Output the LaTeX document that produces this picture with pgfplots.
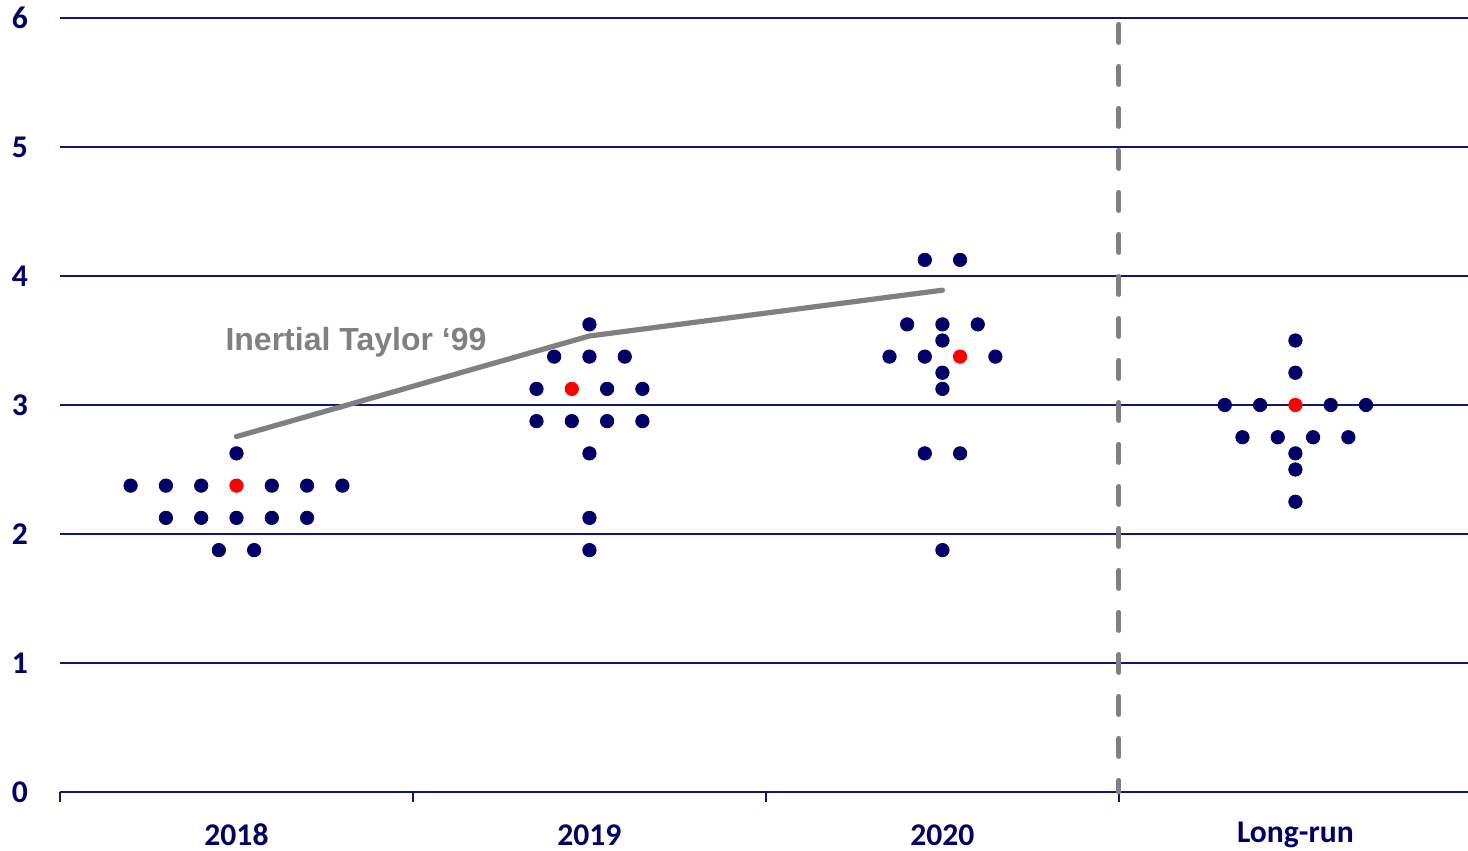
\documentclass[border=0pt]{standalone}
\usepackage{fontspec}
\setmainfont{Carlito}
\newfontfamily\arialfont{Liberation Sans}
\usepackage{pgfplots}
\pgfplotsset{compat=1.18}
\definecolor{navy}{RGB}{0,0,102}
\definecolor{gridnavy}{RGB}{20,20,115}
\definecolor{lgray}{RGB}{128,128,128}
\begin{document}
\begin{tikzpicture}
\begin{axis}[
  at={(0,0)}, anchor=south west,
  scale only axis, width=704pt, height=387pt,
  xmin=0, xmax=3.989, ymin=0, ymax=6,
  axis x line*=bottom, axis y line*=left,
  y axis line style={draw=none},
  x axis line style={gridnavy, line width=0.75pt},
  xtick={0,1,2,3}, xticklabels={},
  tick align=outside, major tick length=5pt,
  xtick style={gridnavy, line width=0.75pt},
  ytick={0,1,2,3,4,5,6},
  ytick style={draw=none},
  ymajorgrids, grid style={gridnavy, line width=0.75pt},
  extra x ticks={0.5,1.5,2.5,3.5},
  extra x tick labels={2018,2019,2020,Long-run},
  extra x tick style={major tick length=0pt, grid=none},
  /pgf/number format/assume math mode=true,
  ticklabel style={font=\fontsize{15.8}{18}\selectfont\bfseries, text=navy},
  xticklabel style={anchor=center, yshift=-21.5pt},
  yticklabel style={anchor=center, xshift=-15pt},
  clip=false,
]
\addplot[lgray, line width=2.5pt, dash pattern=on 9pt off 12pt, line cap=round] coordinates {(3,5.95) (3,0)};
\addplot[lgray, line width=2.6pt, line cap=round, line join=round] coordinates {(0.5,2.755) (1.5,3.535) (2.5,3.89)};
\addplot[only marks, mark=*, mark size=3.35pt, mark options={fill=navy, draw=navy}] coordinates {
(0.2,2.375)(0.3,2.375)(0.4,2.375)(0.6,2.375)(0.7,2.375)(0.8,2.375)
(0.3,2.125)(0.4,2.125)(0.5,2.125)(0.6,2.125)(0.7,2.125)
(0.45,1.875)(0.55,1.875)
(0.5,2.625)
(1.5,3.625)
(1.4,3.375)(1.5,3.375)(1.6,3.375)
(1.35,3.125)(1.55,3.125)(1.65,3.125)
(1.35,2.875)(1.45,2.875)(1.55,2.875)(1.65,2.875)
(1.5,2.625)(1.5,2.125)(1.5,1.875)
(2.45,4.125)(2.55,4.125)
(2.4,3.625)(2.5,3.625)(2.6,3.625)
(2.5,3.5)
(2.35,3.375)(2.45,3.375)(2.65,3.375)
(2.5,3.25)(2.5,3.125)
(2.45,2.625)(2.55,2.625)
(2.5,1.875)
(3.5,3.5)(3.5,3.25)
(3.3,3)(3.4,3)(3.6,3)(3.7,3)
(3.35,2.75)(3.45,2.75)(3.55,2.75)(3.65,2.75)
(3.5,2.625)(3.5,2.5)(3.5,2.25)
};
\addplot[only marks, mark=*, mark size=3.35pt, mark options={fill=red, draw=red}] coordinates {
(0.5,2.375)(1.45,3.125)(2.55,3.375)(3.5,3)
};
\node[text=lgray, font=\arialfont\fontsize{16}{18}\selectfont\bfseries] at (axis cs:0.8385,3.49) {Inertial Taylor ‘99};
\end{axis}
\pgfresetboundingbox
\path (-30pt,-29.5pt) rectangle (704pt,396pt);
\end{tikzpicture}
\end{document}
